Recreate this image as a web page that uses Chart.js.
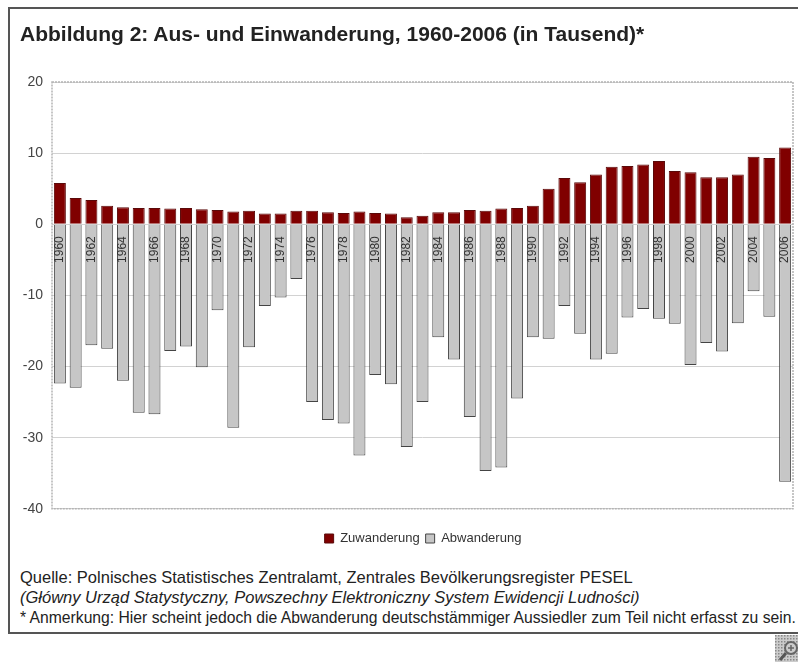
<!DOCTYPE html>
<html lang="de">
<head>
<meta charset="utf-8">
<title>Abbildung 2</title>
<script src="https://cdn.jsdelivr.net/npm/chart.js@4"></script>
<style>
  html, body { margin: 0; padding: 0; background: #fff; }
  body { width: 798px; height: 662px; position: relative; overflow: hidden; font-family: "Liberation Sans", Arial, sans-serif; }
  #frame { position: absolute; left: 8px; top: 7px; width: 800px; height: 623px; border: 2px solid #555; border-right: 0; }
  /* canvas runs past the window so the legend centres on x=423 */
  #wrap { position: absolute; left: 0; top: 0; width: 846px; height: 555px; }
  #title { position: absolute; left: 20px; top: 22px; font-size: 21px; font-weight: bold; color: #222; white-space: nowrap; }
  .note { position: absolute; left: 20px; font-size: 16.5px; color: #222; white-space: nowrap; }
  #zoom-icon { position: absolute; left: 775px; top: 635px; }
</style>
</head>
<body>
<div id="frame"></div>
<div id="wrap"><canvas id="migration-chart"></canvas></div>
<div id="title">Abbildung 2: Aus- und Einwanderung, 1960-2006 (in Tausend)*</div>
<div class="note" style="top:568px">Quelle: Polnisches Statistisches Zentralamt, Zentrales Bevölkerungsregister PESEL</div>
<div class="note" style="top:588px"><i>(Główny Urząd Statystyczny, Powszechny Elektroniczny System Ewidencji Ludności)</i></div>
<div class="note" style="top:609px;font-size:15.7px">* Anmerkung: Hier scheint jedoch die Abwanderung deutschstämmiger Aussiedler zum Teil nicht erfasst zu sein.</div>
<svg id="zoom-icon" width="23" height="27" viewBox="0 0 23 27">
  <defs><pattern id="dots" width="3" height="3" patternUnits="userSpaceOnUse"><rect width="3" height="3" fill="#ccc"/><rect width="1.5" height="1.5" fill="#888"/></pattern></defs>
  <rect width="23" height="27" fill="url(#dots)"/>
  <circle cx="16" cy="13" r="6" fill="#ccc" stroke="#666" stroke-width="2"/>
  <path d="M16 10v6M13 13h6" stroke="#666" stroke-width="1.5"/>
  <path d="M11 18l-6 7" stroke="#555" stroke-width="3"/>
</svg>
<script>
const years = ['1960','1961','1962','1963','1964','1965','1966','1967','1968','1969',
               '1970','1971','1972','1973','1974','1975','1976','1977','1978','1979',
               '1980','1981','1982','1983','1984','1985','1986','1987','1988','1989',
               '1990','1991','1992','1993','1994','1995','1996','1997','1998','1999',
               '2000','2001','2002','2003','2004','2005','2006'];
const zuwanderung = [5.8,3.7,3.4,2.6,2.4,2.3,2.3,2.2,2.3,2.1,
                     2.0,1.8,1.9,1.5,1.5,1.9,1.9,1.7,1.6,1.8,
                     1.6,1.5,1.0,1.2,1.7,1.7,2.0,1.9,2.2,2.3,
                     2.6,5.0,6.5,5.9,7.0,8.1,8.2,8.4,8.9,7.5,
                     7.3,6.6,6.6,7.0,9.5,9.3,10.8];
const abwanderung = [-22.4,-23.0,-17.0,-17.5,-22.0,-26.5,-26.7,-17.8,-17.2,-20.1,
                     -12.1,-28.6,-17.3,-11.5,-10.3,-7.7,-25.0,-27.5,-28.0,-32.5,
                     -21.2,-22.5,-31.3,-25.0,-15.9,-19.0,-27.1,-34.7,-34.2,-24.5,
                     -15.9,-16.1,-11.5,-15.4,-19.0,-18.2,-13.1,-11.9,-13.3,-14.0,
                     -19.8,-16.7,-17.9,-13.9,-9.4,-13.0,-36.2];
const yTicks = [20,10,0,-10,-20,-30,-40];

// dotted box round the plot area
const plotFrame = {
    id: 'plotFrame',
    beforeDatasetsDraw(chart) {
        const a = chart.chartArea, c = chart.ctx;
        c.save();
        c.strokeStyle = '#b4b4b4';
        c.lineWidth = 1.5;
        c.setLineDash([2, 1]);
        c.strokeRect(a.left, a.top, a.width, a.height);
        c.restore();
    }
};

new Chart(document.getElementById('migration-chart'), {
    type: 'bar',
    data: {
        labels: years,
        datasets: [
            { label: 'Zuwanderung', data: zuwanderung, backgroundColor: '#800000', borderColor: '#5a0a0a', borderWidth: 1 },
            { label: 'Abwanderung', data: abwanderung, backgroundColor: '#c6c6c6', borderColor: '#444', borderWidth: 1 }
        ]
    },
    options: {
        responsive: true,
        maintainAspectRatio: false,
        animation: false,
        layout: { padding: { top: 82 } },
        datasets: { bar: { categoryPercentage: 1, barPercentage: 0.76 } },
        plugins: {
            legend: {
                position: 'bottom',
                // blank title only pushes the legend row down from the plot
                title: { display: true, text: ' ', font: { size: 1 }, padding: 8 },
                labels: { boxWidth: 9, boxHeight: 9, padding: 6, color: '#333', font: { family: 'Liberation Sans', size: 13 } }
            },
            tooltip: { enabled: false }
        },
        scales: {
            x: {
                stacked: true,
                position: { y: 0 },
                grid: { display: false },
                border: { display: false },
                afterFit(axis) { axis.paddingLeft = 0; axis.paddingRight = 0; },
                ticks: {
                    z: 1,
                    autoSkip: false,
                    minRotation: 90,
                    maxRotation: 90,
                    padding: 4,
                    color: '#333',
                    font: { family: 'Liberation Sans', size: 12 },
                    callback(value, index) { return index % 2 === 0 ? years[index] : ''; }
                }
            },
            y: {
                stacked: true,
                min: -40,
                max: 20,
                afterBuildTicks(axis) { axis.ticks = yTicks.map(v => ({ value: v })); },
                afterFit(axis) { axis.width = 52; },
                grid: { color: '#d2d2d2', drawTicks: false },
                border: { display: false },
                ticks: { padding: 9, color: '#444', font: { family: 'Liberation Sans', size: 14 } }
            },
            // empty right axis, keeps the plot's right edge at x=793
            spacer: {
                position: 'right',
                min: -40,
                max: 20,
                afterFit(axis) { axis.width = 53; },
                grid: { display: false },
                border: { display: false },
                ticks: { display: false }
            }
        }
    },
    plugins: [plotFrame]
});
</script>
</body>
</html>
